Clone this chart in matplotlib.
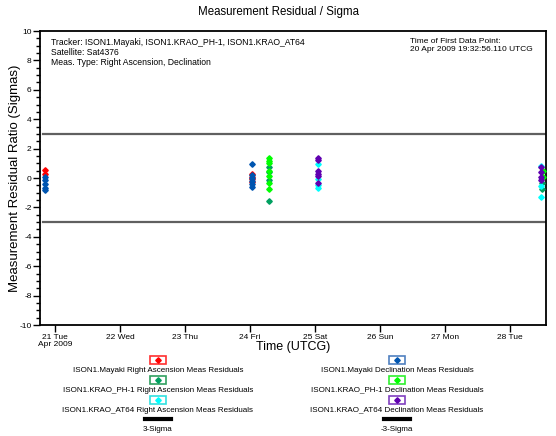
import matplotlib
matplotlib.use('Agg')
import matplotlib.pyplot as plt
import numpy as np
from matplotlib.patches import Rectangle
from matplotlib.lines import Line2D
from matplotlib.ticker import MultipleLocator

plt.rcParams['font.family'] = ['Liberation Sans', 'DejaVu Sans']
plt.rcParams['axes.unicode_minus'] = False

# time in days of April 2009 (UTC)
ticks = [21, 22, 23, 24, 25, 26, 27, 28]
tick_labels = ['21 Tue\nApr 2009', '22 Wed', '23 Thu', '24 Fri', '25 Sat', '26 Sun', '27 Mon', '28 Tue']

# Mayaki Right Ascension
may_ra_t = [20.85, 20.85, 24.03, 24.03, 24.03, 24.03]
may_ra_v = [0.56, 0.24, 0.3, 0.1, -0.1, -0.3]
# Mayaki Declination
may_de_t = [20.85, 20.85, 20.85, 20.85, 20.85, 24.03, 24.03, 24.03, 24.03, 24.03, 24.03]
may_de_v = [0.1, -0.17, -0.44, -0.7, -0.85, 0.92, 0.2, 0.0, -0.2, -0.4, -0.6]
# KRAO_PH-1 Right Ascension
ph1_ra_t = [24.29, 24.29, 24.29, 24.29, 28.5, 28.5]
ph1_ra_v = [0.74, 0.4, -0.17, -1.58, -0.35, -0.78]
# KRAO_PH-1 Declination
ph1_de_t = [24.29, 24.29, 24.29, 24.29, 24.29, 24.29, 24.29, 28.51, 28.51]
ph1_de_v = [1.33, 1.15, 1.0, 0.5, 0.17, -0.33, -0.78, 0.46, 0.1]
# KRAO_AT64 Right Ascension
at_ra_t = [25.04, 25.04, 25.04, 25.04, 28.48, 28.48, 28.48]
at_ra_v = [0.92, -0.05, -0.5, -0.7, 0.85, -0.56, -1.26]
# KRAO_AT64 Declination
at_de_t = [25.04, 25.04, 25.04, 25.04, 25.04, 25.04, 28.48, 28.48, 28.48, 28.48]
at_de_v = [1.38, 1.2, 0.51, 0.3, 0.12, -0.33, 0.74, 0.4, 0.05, -0.17]

first_t = 20.815
sigma = 3

series = [
    ('ISON1.Mayaki Right Ascension Meas Residuals', may_ra_t, may_ra_v, '#ff0000', '#ff3030'),
    ('ISON1.KRAO_PH-1 Right Ascension Meas Residuals', ph1_ra_t, ph1_ra_v, '#00a060', '#30a060'),
    ('ISON1.KRAO_AT64 Right Ascension Meas Residuals', at_ra_t, at_ra_v, '#00ffff', '#30e0e0'),
    ('ISON1.Mayaki Declination Meas Residuals', may_de_t, may_de_v, '#0055b0', '#5080c0'),
    ('ISON1.KRAO_PH-1 Declination Meas Residuals', ph1_de_t, ph1_de_v, '#00ff00', '#30f030'),
    ('ISON1.KRAO_AT64 Declination Meas Residuals', at_de_t, at_de_v, '#6000b0', '#8040c0'),
]

W, H = 556.0, 436.0
fig = plt.figure(figsize=(5.56, 4.36), dpi=100)
ax = fig.add_axes([40/W, 1-325/H, 506/W, 294/H])

xmin, xmax = 20.77, 28.555
ax.plot([first_t, xmax], [sigma, sigma], c='#606060', lw=1.6, zorder=1)
ax.plot([first_t, xmax], [-sigma, -sigma], c='#606060', lw=1.6, zorder=1)

for name, t, v, col, ecol in series:
    ax.plot(t, v, 'D', ms=2.8, c=col, mec=col, zorder=3)

ax.set_xlim(xmin, xmax)
ax.set_ylim(-10, 10)
ax.set_xticks(ticks)
ax.set_xticklabels(tick_labels, fontsize=6, linespacing=1.05)
ax.yaxis.set_major_locator(MultipleLocator(2))
ax.yaxis.set_minor_locator(MultipleLocator(0.5))
ax.tick_params(axis='y', labelsize=6, length=5, width=1, pad=1)
ax.tick_params(axis='y', which='minor', length=3, width=1)
ax.tick_params(axis='x', length=5, width=1, pad=1.5)
for s in ax.spines.values():
    s.set_linewidth(1.3)

ax.set_ylabel('Measurement Residual Ratio (Sigmas)', fontsize=9.5)
ax.yaxis.set_label_coords((21 - 40) / 506, 0.5)
ax.set_xlabel('Time (UTCG)', fontsize=9, va='top')
ax.xaxis.set_label_coords(0.5, -(341 - 325) / 294)
fig.text(0.5, 1-12/H, 'Measurement Residual / Sigma', ha='center', va='center', fontsize=8.3)

fig.text(51/W, 1-38/H, 'Tracker: ISON1.Mayaki, ISON1.KRAO_PH-1, ISON1.KRAO_AT64\n'
         'Satellite: Sat4376\nMeas. Type: Right Ascension, Declination',
         fontsize=6.2, va='top', ha='left', linespacing=1.15)
fig.text(410/W, 1-38/H, 'Time of First Data Point:\n20 Apr 2009 19:32:56.110 UTCG',
         fontsize=6, va='top', ha='left', linespacing=1.2)

# legend drawn below the axes
cols = [158, 397]
for i, (name, t, v, col, ecol) in enumerate(series):
    cx = cols[i // 3]
    by = 360 + 20 * (i % 3)
    fig.patches.append(Rectangle(((cx - 8) / W, 1 - (by + 4) / H), 16 / W, 8 / H,
                                 transform=fig.transFigure, fill=False, ec=ecol, lw=1.2))
    fig.lines.append(Line2D([cx / W], [1 - by / H], marker='D', ms=2.8, c=col,
                            transform=fig.transFigure))
    fig.text(cx / W, 1 - (by + 10) / H, name, ha='center', va='center', fontsize=5.8)

for cx, lab in zip(cols, ['3-Sigma', '-3-Sigma']):
    fig.lines.append(Line2D([(cx - 13) / W, (cx + 13) / W], [1 - 419 / H] * 2, c='black', lw=3,
                            transform=fig.transFigure))
    fig.text(cx / W, 1 - 429 / H, lab, ha='center', va='center', fontsize=5.8)

fig.savefig('out.png', dpi=100)
